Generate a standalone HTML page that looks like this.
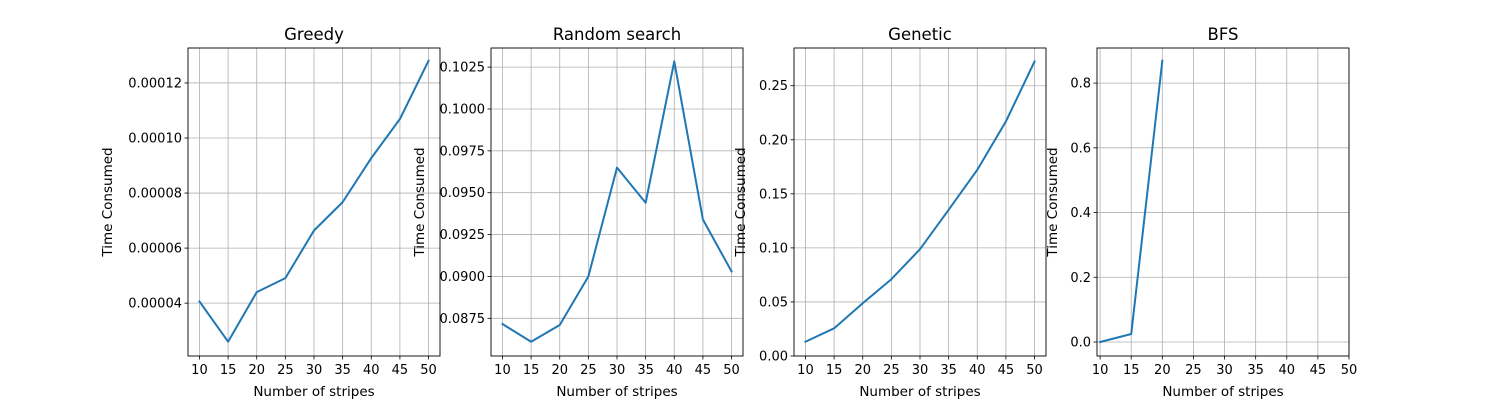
<!DOCTYPE html>
<html><head><meta charset="utf-8"><style>
html,body{margin:0;padding:0;background:#fff;}
svg{display:block;font-family:"DejaVu Sans","Liberation Sans",sans-serif;}
</style></head><body>
<svg id="chart" width="1500" height="400" viewBox="0 0 1500 400" xmlns="http://www.w3.org/2000/svg"></svg>
<script>
const categories = [10, 15, 20, 25, 30, 35, 40, 45, 50];
const greedyValues = [4.06e-5, 2.60e-5, 4.40e-5, 4.91e-5, 6.64e-5, 7.67e-5, 9.27e-5, 1.069e-4, 1.281e-4];
const randomValues = [0.08716, 0.0861, 0.0871, 0.0900, 0.0965, 0.0944, 0.10284, 0.0934, 0.0903];
const geneticValues = [0.0132, 0.0256, 0.0488, 0.0710, 0.0988, 0.1352, 0.1722, 0.2170, 0.2725];
const bfsCategories = [10, 15, 20];
const bfsValues = [0.0, 0.0247, 0.869];
const xTickLabels = [10, 15, 20, 25, 30, 35, 40, 45, 50];
const greedyTicks = [0.00004, 0.00006, 0.00008, 0.00010, 0.00012];
const greedyTickLabels = ["0.00004","0.00006","0.00008","0.00010","0.00012"];
const randomTicks = [0.0875, 0.0900, 0.0925, 0.0950, 0.0975, 0.1000, 0.1025];
const randomTickLabels = ["0.0875","0.0900","0.0925","0.0950","0.0975","0.1000","0.1025"];
const geneticTicks = [0, 0.05, 0.10, 0.15, 0.20, 0.25];
const geneticTickLabels = ["0.00","0.05","0.10","0.15","0.20","0.25"];
const bfsTicks = [0, 0.2, 0.4, 0.6, 0.8];
const bfsTickLabels = ["0.0","0.2","0.4","0.6","0.8"];

const NS = "http://www.w3.org/2000/svg";
const svg = document.getElementById('chart');
function mk(tag, attrs, parent, text){
  const e = document.createElementNS(NS, tag);
  for (const k in attrs) e.setAttribute(k, attrs[k]);
  if (text !== undefined) e.textContent = text;
  (parent||svg).appendChild(e);
  return e;
}
const panels = [
  {key:'greedy', title:'Greedy', left:188, xs:categories, ys:greedyValues, ticks:greedyTicks, labels:greedyTickLabels, xmin:8, xmax:52, ymin:2.08e-5, ymax:1.327e-4, ylx:112},
  {key:'random-search', title:'Random search', left:491, xs:categories, ys:randomValues, ticks:randomTicks, labels:randomTickLabels, xmin:8, xmax:52, ymin:0.08525, ymax:0.10364, ylx:424},
  {key:'genetic', title:'Genetic', left:794, xs:categories, ys:geneticValues, ticks:geneticTicks, labels:geneticTickLabels, xmin:8, xmax:52, ymin:0, ymax:0.2849, ylx:745},
  {key:'bfs', title:'BFS', left:1097, xs:bfsCategories, ys:bfsValues, ticks:bfsTicks, labels:bfsTickLabels, xmin:9.5, xmax:50, ymin:-0.0433, ymax:0.9085, ylx:1057}
];
const plotTop=48, plotBottom=356, W=252;
panels.forEach(p=>{
  const g = mk('g', {});
  
  
  const xs = v => p.left + (v - p.xmin)/(p.xmax - p.xmin)*W;
  const ys = v => plotBottom - (v - p.ymin)/(p.ymax - p.ymin)*(plotBottom-plotTop);
  xTickLabels.forEach(t=>{
    const x = xs(t);
    const l = mk('line', {x1:x, x2:x, y1:plotTop, y2:plotBottom, stroke:'#b0b0b0', 'stroke-width':0.8}, g);
    
    
    mk('line', {x1:x, x2:x, y1:plotBottom, y2:plotBottom+3.5, stroke:'#000', 'stroke-width':0.8}, g);
    const tl = mk('text', {x:x, y:plotBottom+18, 'font-size':13, 'text-anchor':'middle', fill:'#000'}, g, String(t));
    
    
  });
  p.ticks.forEach((t,i)=>{
    const y = ys(t);
    const l = mk('line', {x1:p.left, x2:p.left+W, y1:y, y2:y, stroke:'#b0b0b0', 'stroke-width':0.8}, g);
    
    
    mk('line', {x1:p.left-3.5, x2:p.left, y1:y, y2:y, stroke:'#000', 'stroke-width':0.8}, g);
    const tl = mk('text', {x:p.left-6, y:y+4.5, 'font-size':13, 'text-anchor':'end', fill:'#000'}, g, p.labels[i]);
    
    
  });
  const pts = p.xs.map((x,i)=> xs(x).toFixed(2)+','+ys(p.ys[i]).toFixed(2)).join(' ');
  const line = mk('polyline', {points:pts, fill:'none', stroke:'#1f77b4', 'stroke-width':2, 'stroke-linejoin':'round', 'stroke-linecap':'square'}, g);
  
  
  const frame = mk('rect', {x:p.left, y:plotTop, width:W, height:plotBottom-plotTop, fill:'none', stroke:'#000', 'stroke-width':0.9}, g);
  
  
  const t = mk('text', {x:p.left+W/2, y:40, 'font-size':16.5, 'text-anchor':'middle', fill:'#000'}, g, p.title);
  
  
  const xl = mk('text', {x:p.left+W/2, y:396, 'font-size':13.5, 'text-anchor':'middle', fill:'#000'}, g, 'Number of stripes');
  
  
  const yl = mk('text', {x:0, y:0, 'font-size':13.5, 'text-anchor':'middle', fill:'#000', transform:'translate('+p.ylx+',202) rotate(-90)'}, g, 'Time Consumed');
  
  
});
</script>
</body></html>
